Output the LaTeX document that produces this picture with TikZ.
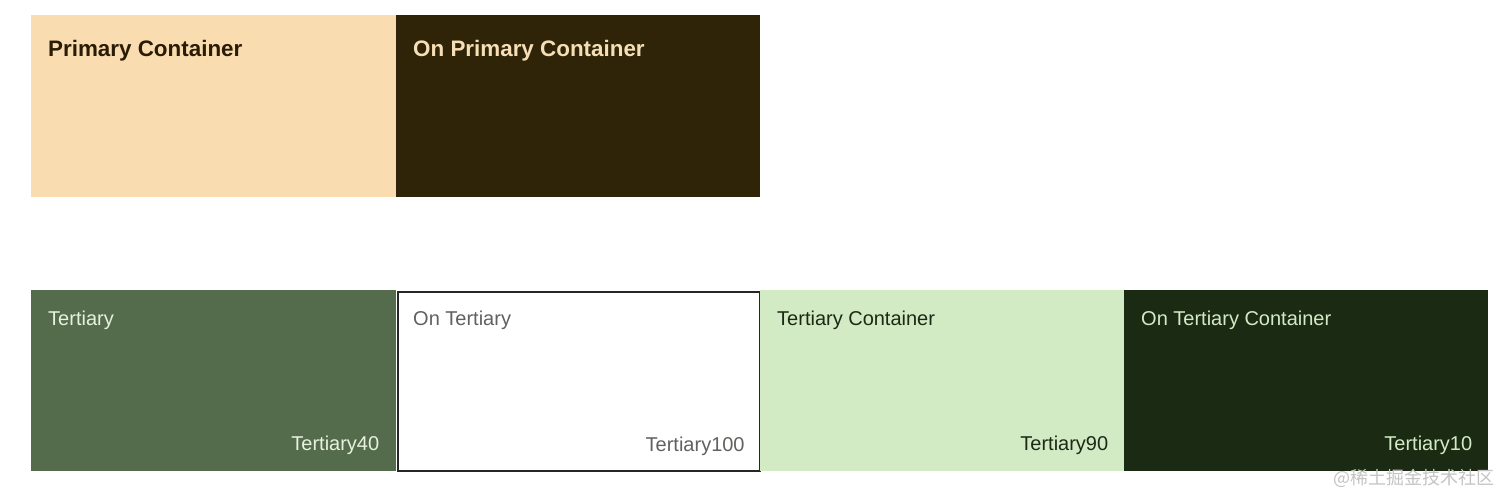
\documentclass[tikz,border=0pt]{standalone}
\usepackage{fontspec}
\setmainfont{Liberation Sans}
\newfontfamily\cjk{Noto Sans CJK SC}
\definecolor{pc}{HTML}{F9DDB0}
\definecolor{opc}{HTML}{2F2407}
\definecolor{pctext}{HTML}{2A1B05}
\definecolor{opctext}{HTML}{F6DFB6}
\definecolor{tert}{HTML}{556C4C}
\definecolor{terttext}{HTML}{E6F2DE}
\definecolor{ottext}{HTML}{5F625D}
\definecolor{tc}{HTML}{D3EBC5}
\definecolor{tctext}{HTML}{1C2A15}
\definecolor{otc}{HTML}{1B2A13}
\definecolor{otctext}{HTML}{D3EBC5}
\definecolor{wm}{HTML}{C4C4C4}
\begin{document}
\begin{tikzpicture}[x=1pt,y=-1pt,
  swatch/.style={draw=none,minimum width=365pt,minimum height=182pt,inner sep=0pt,anchor=north west},
  toplbl/.style={anchor=base west,inner sep=0pt,font=\fontsize{22.4}{26}\selectfont\bfseries},
  lbl/.style={anchor=base west,inner sep=0pt,font=\fontsize{20}{24}\selectfont},
  tone/.style={anchor=base east,inner sep=0pt,font=\fontsize{20}{24}\selectfont}]
\useasboundingbox (0,0) rectangle (1512,503);
\fill[white] (0,0) rectangle (1512,503);
% top row
\node[swatch,fill=pc] (pcbox) at (31,15) {};
\node[swatch,fill=opc,minimum width=364pt] (opcbox) at (396,15) {};
\node[toplbl,text=pctext] (pcl) at ([shift={(17,42)}]pcbox.north west) {Primary Container};
\node[toplbl,text=opctext] (opcl) at ([shift={(17,42)}]opcbox.north west) {On Primary Container};
% bottom row
\node[swatch,fill=tert,minimum height=181pt] (tbox) at (31,290) {};
\node[swatch,fill=white,draw=black!85,line width=1.8pt,minimum width=362pt,minimum height=179.5pt] (otbox) at (397,290.8) {};
\node[swatch,fill=tc,minimum width=364pt,minimum height=181pt] (tcbox) at (760,290) {};
\node[swatch,fill=otc,minimum width=364pt,minimum height=181pt] (otcbox) at (1124,290) {};
\node[lbl,text=terttext] (tl) at ([shift={(17,35)}]tbox.north west) {Tertiary};
\node[lbl,text=ottext] (otl) at ([shift={(16,34.2)}]otbox.north west) {On Tertiary};
\node[lbl,text=tctext] (tcl) at ([shift={(17,35)}]tcbox.north west) {Tertiary Container};
\node[lbl,text=otctext] (otcl) at ([shift={(17,35)}]otcbox.north west) {On Tertiary Container};
\node[tone,text=terttext] (t40) at ([shift={(-17,-21)}]tbox.south east) {Tertiary40};
\node[tone,text=ottext] (t100) at ([shift={(-16,-20.5)}]otbox.south east) {Tertiary100};
\node[tone,text=tctext] (t90) at ([shift={(-16,-21)}]tcbox.south east) {Tertiary90};
\node[tone,text=otctext] (t10) at ([shift={(-16,-21)}]otcbox.south east) {Tertiary10};
% watermark
\node[anchor=base east,inner sep=0pt,text=wm,font=\cjk\fontsize{18}{21}\selectfont] (wmk) at (1495,484) {@稀土掘金技术社区};
\end{tikzpicture}
\end{document}
